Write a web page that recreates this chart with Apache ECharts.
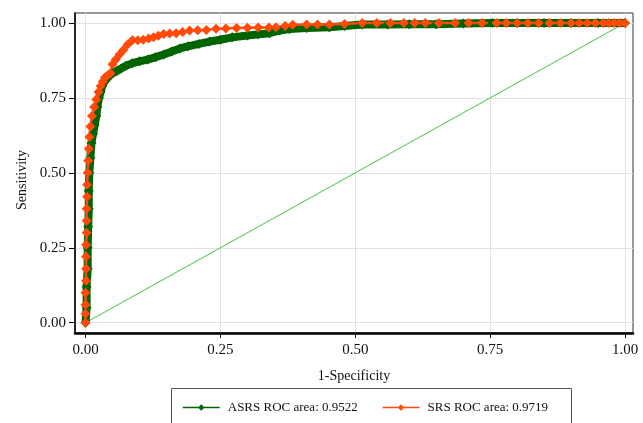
<!DOCTYPE html>
<html>
<head>
<meta charset="utf-8">
<script src="https://cdn.jsdelivr.net/npm/echarts@6/dist/echarts.min.js"></script>
<style>
  html, body { margin: 0; padding: 0; background: #fff; }
  #rocChart { width: 643px; height: 423px; }
</style>
</head>
<body>
<div id="rocChart"></div>
<script>
/* tick positions on both axes */
var tickValues = [0, 0.25, 0.5, 0.75, 1];

/* ASRS curve, [1-specificity, sensitivity] */
var asrsData = [
  [0, 0], [0.002, 0.05], [0.002, 0.12], [0.004, 0.18], [0.004, 0.25], [0.005, 0.32],
  [0.006, 0.38], [0.006, 0.44], [0.007, 0.5], [0.009, 0.55], [0.011, 0.6], [0.014, 0.63],
  [0.017, 0.66], [0.02, 0.69], [0.022, 0.72], [0.025, 0.75], [0.028, 0.77], [0.031, 0.79],
  [0.035, 0.805], [0.04, 0.815], [0.045, 0.825], [0.05, 0.832], [0.058, 0.84], [0.066, 0.848],
  [0.075, 0.857], [0.087, 0.866], [0.1, 0.872], [0.115, 0.878], [0.13, 0.886], [0.145, 0.895],
  [0.16, 0.905], [0.175, 0.915], [0.19, 0.922], [0.21, 0.93], [0.23, 0.938], [0.25, 0.944],
  [0.272, 0.952], [0.3, 0.958], [0.32, 0.962], [0.341, 0.966], [0.36, 0.975], [0.378, 0.98],
  [0.41, 0.983], [0.452, 0.986], [0.48, 0.99], [0.513, 0.995], [0.56, 0.995], [0.6, 0.996],
  [0.65, 0.996], [0.7, 0.998], [0.754, 1], [0.8, 1], [0.85, 1], [0.9, 1], [0.95, 1], [1, 1]
];

/* SRS curve */
var srsData = [
  [0, 0], [0, 0.03], [0, 0.06], [0, 0.1], [0.001, 0.14], [0.001, 0.18], [0.001, 0.22],
  [0.001, 0.26], [0.002, 0.3], [0.002, 0.34], [0.002, 0.38], [0.003, 0.42], [0.003, 0.46],
  [0.004, 0.5], [0.005, 0.54], [0.006, 0.58], [0.007, 0.62], [0.009, 0.655], [0.012, 0.69],
  [0.016, 0.72], [0.02, 0.745], [0.024, 0.77], [0.028, 0.79], [0.032, 0.805], [0.036, 0.818],
  [0.041, 0.826], [0.046, 0.832], [0.05, 0.862], [0.056, 0.878], [0.063, 0.895], [0.07, 0.91],
  [0.078, 0.928], [0.087, 0.942], [0.097, 0.942], [0.107, 0.944], [0.117, 0.948], [0.126, 0.952],
  [0.135, 0.957], [0.145, 0.963], [0.156, 0.965], [0.168, 0.966], [0.18, 0.97], [0.193, 0.975],
  [0.208, 0.976], [0.224, 0.977], [0.242, 0.981], [0.26, 0.982], [0.28, 0.983], [0.3, 0.984],
  [0.32, 0.985], [0.34, 0.985], [0.353, 0.986], [0.37, 0.99], [0.384, 0.994], [0.41, 0.995],
  [0.43, 0.995], [0.452, 0.995], [0.48, 0.997], [0.513, 1], [0.54, 1], [0.565, 1], [0.59, 1],
  [0.61, 1], [0.63, 1], [0.655, 1], [0.685, 1], [0.71, 1], [0.735, 1], [0.762, 1], [0.78, 1],
  [0.8, 1], [0.82, 1], [0.84, 1], [0.86, 1], [0.88, 1], [0.9, 1], [0.915, 1], [0.93, 1],
  [0.945, 1], [0.96, 1], [0.97, 1], [0.98, 1], [0.99, 1], [1, 1]
];

/* chance line */
var refData = [[0, 0], [1, 1]];

var legendNames = ['ASRS ROC area: 0.9522', 'SRS ROC area: 0.9719'];

var serif = 'Liberation Serif';
var myChart = echarts.init(document.getElementById('rocChart'));

var option = {
  animation: false,
  grid: {
    left: 75,
    right: 10,
    top: 13,
    bottom: 90
  },
  xAxis: {
    type: 'value',
    min: -0.0195,
    max: 1.0148,
    axisLine: { show: true, onZero: false, lineStyle: { color: '#000', width: 2.5 } },
    axisTick: { show: true, length: 5, customValues: tickValues, lineStyle: { color: '#000' } },
    axisLabel: {
      customValues: tickValues,
      formatter: function (v) { return v.toFixed(2); },
      color: '#111',
      fontFamily: serif,
      fontSize: 15,
      margin: 10
    },
    splitLine: { show: true, lineStyle: { color: '#e2e2e2', width: 1 } },
    name: '1-Specificity',
    nameLocation: 'middle',
    nameGap: 36,
    nameTextStyle: { color: '#111', fontFamily: serif, fontSize: 14 }
  },
  yAxis: {
    type: 'value',
    min: -0.0343,
    max: 1.0333,
    axisLine: { show: true, onZero: false, lineStyle: { color: '#000', width: 1.5 } },
    axisTick: { show: true, length: 6, customValues: tickValues, lineStyle: { color: '#000' } },
    axisLabel: {
      customValues: tickValues,
      formatter: function (v) { return v.toFixed(2); },
      color: '#111',
      fontFamily: serif,
      fontSize: 15,
      margin: 9
    },
    splitLine: { show: true, lineStyle: { color: '#e2e2e2', width: 1 } }
  },
  legend: {
    data: legendNames,
    left: 182,
    top: 401,
    padding: 0,
    itemWidth: 37,
    itemHeight: 8,
    itemGap: 24,
    lineStyle: { width: 1.5 },
    textStyle: { color: '#111', fontFamily: serif, fontSize: 13, padding: [0, 0, 0, 3] }
  },
  graphic: [
    {
      type: 'rect',
      shape: { x: 75, y: 13, width: 558, height: 320 },
      style: { fill: 'none', stroke: '#333', lineWidth: 1 },
      silent: true
    },
    {
      type: 'rect',
      shape: { x: 171.5, y: 388.5, width: 400, height: 40 },
      style: { fill: 'none', stroke: '#555', lineWidth: 1 },
      silent: true
    },
    {
      type: 'text',
      x: 22,
      y: 180,
      rotation: Math.PI / 2,
      style: {
        text: 'Sensitivity',
        fill: '#111',
        font: '14px "Liberation Serif"',
        textAlign: 'center',
        textVerticalAlign: 'middle'
      },
      silent: true
    }
  ],
  series: [
    {
      name: 'reference',
      type: 'line',
      data: refData,
      symbol: 'none',
      lineStyle: { color: '#3cc83c', width: 1 },
      silent: true
    },
    {
      name: legendNames[0],
      type: 'line',
      data: asrsData,
      symbol: 'diamond',
      symbolSize: 10,
      itemStyle: { color: '#006400' },
      lineStyle: { color: '#006400', width: 8 }
    },
    {
      name: legendNames[1],
      type: 'line',
      data: srsData,
      symbol: 'diamond',
      symbolSize: 10,
      itemStyle: { color: '#ff4a0a' },
      lineStyle: { color: '#ff4a0a', width: 2.5 }
    }
  ]
};

myChart.setOption(option);
</script>
</body>
</html>
